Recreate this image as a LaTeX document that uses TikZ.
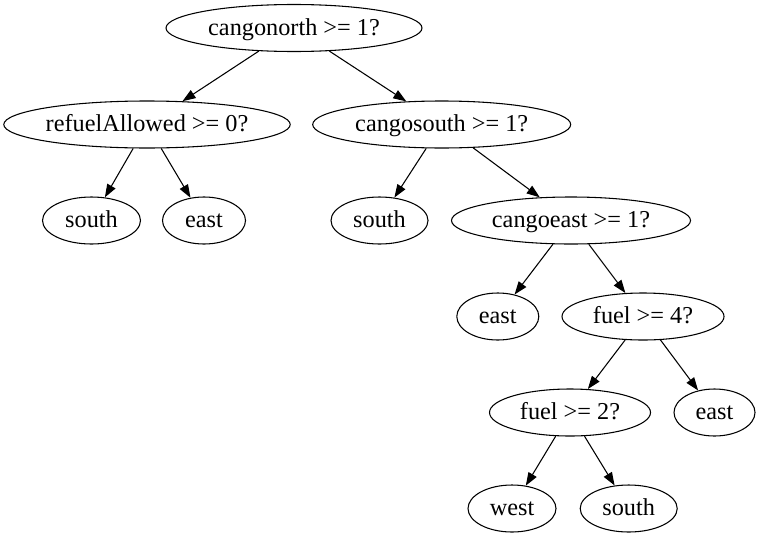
\documentclass[tikz,border=0pt]{standalone}
\usepackage{fontspec}
\setmainfont{Liberation Serif}
\usetikzlibrary{shapes.geometric,arrows.meta}
\tikzset{
  nd/.style={ellipse, draw, line width=0.8pt, minimum height=35.25pt, inner sep=0pt,
    text height=13pt, text depth=2.2pt,
    font=\fontsize{18.2}{22}\selectfont},
  edge/.style={draw, line width=0.8pt, -{Triangle[length=9.8pt,width=7pt]}}
}
\begin{document}
\begin{tikzpicture}[x=0.75pt,y=-0.75pt]
\useasboundingbox (0,0) rectangle (762,539);
\node[nd, minimum width=192pt]    (root)  at (294,28)      {cangonorth >= 1?};
\node[nd, minimum width=214.5pt]  (ref)   at (147,124.5)   {refuelAllowed >= 0?};
\node[nd, minimum width=193.5pt]  (cs)    at (441.7,124.5) {cangosouth >= 1?};
\node[nd, minimum width=73.5pt]   (s1)    at (91.5,220.5)  {south};
\node[nd, minimum width=62.25pt]  (e1)    at (204,220.5)   {east};
\node[nd, minimum width=72.75pt]  (s2)    at (379.5,220.5) {south};
\node[nd, minimum width=179.25pt] (ce)    at (571,220.5)   {cangoeast >= 1?};
\node[nd, minimum width=61.5pt]   (e2)    at (497.8,316.5) {east};
\node[nd, minimum width=121.5pt]  (f4)    at (643,316.5)   {fuel >= 4?};
\node[nd, minimum width=120.75pt] (f2)    at (570,412.5)   {fuel >= 2?};
\node[nd, minimum width=60.75pt]  (e3)    at (714.5,412.5) {east};
\node[nd, minimum width=66pt]     (w)     at (512,508.5)   {west};
\node[nd, minimum width=72.75pt]  (s3)    at (628.7,508.5) {south};
\draw[edge] (root) -- (ref);
\draw[edge] (root) -- (cs);
\draw[edge] (ref) -- (s1);
\draw[edge] (ref) -- (e1);
\draw[edge] (cs) -- (s2);
\draw[edge] (cs) -- (ce);
\draw[edge] (ce) -- (e2);
\draw[edge] (ce) -- (f4);
\draw[edge] (f4) -- (f2);
\draw[edge] (f4) -- (e3);
\draw[edge] (f2) -- (w);
\draw[edge] (f2) -- (s3);
\end{tikzpicture}
\end{document}
